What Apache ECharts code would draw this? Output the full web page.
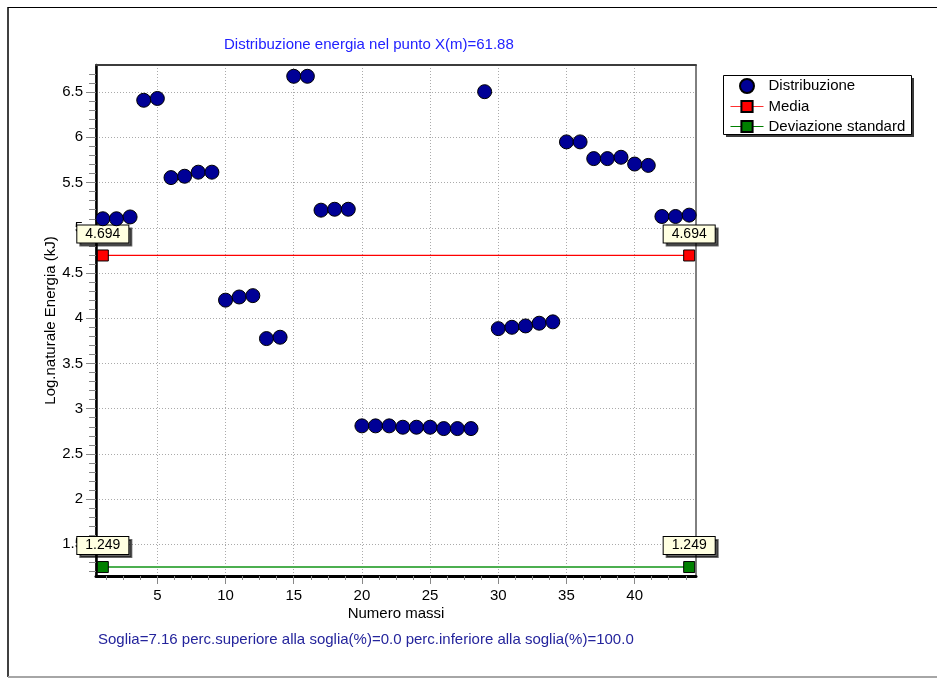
<!DOCTYPE html>
<html>
<head>
<meta charset="utf-8">
<script src="https://cdn.jsdelivr.net/npm/echarts@6/dist/echarts.min.js"></script>
<style>
html,body{margin:0;padding:0;background:#fff;}
#chart{width:937px;height:678px;}
</style>
</head>
<body>
<div id="chart"></div>
<script>
// ---- data ----
var masses = [1,2,3,4,5,6,7,8,9,10,11,12,13,14,15,16,17,18,19,20,21,22,23,24,25,26,27,28,29,30,31,32,33,34,35,36,37,38,39,40,41,42,43,44];
var logEnergy = [5.10,5.10,5.12,6.41,6.43,5.555,5.57,5.615,5.615,4.20,4.235,4.25,3.775,3.79,6.675,6.675,5.195,5.205,5.205,2.81,2.81,2.81,2.795,2.795,2.795,2.78,2.78,2.78,6.505,3.885,3.90,3.915,3.945,3.96,5.95,5.95,5.765,5.765,5.78,5.705,5.69,5.125,5.125,5.14];
var mediaValue = [4.694];
var devStdValue = [1.249];
var lineEnds = [1, 44];
var xTickLabels = [5,10,15,20,25,30,35,40];
var yTickLabels = [1.5,2,2.5,3,3.5,4,4.5,5,5.5,6,6.5];
var seriesNames = ['Distribuzione','Media','Deviazione standard'];
var titleText = 'Distribuzione energia nel punto X(m)=61.88';
var footText = 'Soglia=7.16 perc.superiore alla soglia(%)=0.0 perc.inferiore alla soglia(%)=100.0';
var xName = 'Numero massi';
var yName = 'Log.naturale Energia (kJ)';

// minor ticks (axis decoration)
var xMinor = [];
for (var i = 0; i < xTickLabels.length; i++) {
  var b = xTickLabels[i] - 5;
  for (var k = 1; k < 4; k++) xMinor.push(b + k * 1.25);
}
for (var k2 = 1; k2 < 4; k2++) xMinor.push(40 + k2 * 1.25);
var yMinor = [];
for (var j = 0; j < yTickLabels.length; j++) {
  var yb = yTickLabels[j] - 0.5;
  for (var m = 1; m < 5; m++) {
    var v = Math.round((yb + m * 0.1) * 10) / 10;
    if (v > 1.15) yMinor.push(v);
  }
}
yMinor.push(6.6, 6.7);

var scatterData = masses.map(function (x, i) { return [x, logEnergy[i]]; });
var mediaData = lineEnds.map(function (x) { return [x, mediaValue[0]]; });
var devData = lineEnds.map(function (x) { return [x, devStdValue[0]]; });

var FONT = 'Liberation Sans, Arial, sans-serif';
var XMIN = 0.5, XMAX = 44.5, YMIN = 1.15, YMAX = 6.8;

function boxLabel() {
  return {
    show: true, position: 'top', distance: 7,
    formatter: function (p) { return p.value[1].toFixed(3); },
    fontFamily: FONT, fontSize: 14, color: '#000', lineHeight: 15,
    backgroundColor: '#ffffe1', borderColor: '#000', borderWidth: 1,
    padding: [1, 8, 1, 8],
    shadowColor: 'rgba(0,0,0,0.6)', shadowOffsetX: 3, shadowOffsetY: 3, shadowBlur: 0
  };
}

var chart = echarts.init(document.getElementById('chart'), null, {renderer: 'canvas'});
chart.setOption({
  animation: false,
  backgroundColor: '#fff',
  textStyle: {fontFamily: FONT},
  title: [
    {text: titleText, left: 224, top: 37, padding: 0,
     textStyle: {fontFamily: FONT, fontSize: 15, fontWeight: 'normal', color: '#2121ff'}},
    {text: footText, left: 98, top: 632, padding: 0,
     textStyle: {fontFamily: FONT, fontSize: 15, fontWeight: 'normal', color: '#24249c'}}
  ],
  graphic: [
    {type: 'line', shape: {x1: 8, y1: 7, x2: 8, y2: 677}, style: {stroke: '#000', lineWidth: 1.5}},
    {type: 'line', shape: {x1: 8, y1: 7.5, x2: 937, y2: 7.5}, style: {stroke: '#000', lineWidth: 1.2}},
    {type: 'rect', shape: {x: 8, y: 676, width: 929, height: 2}, style: {fill: '#a6a6a6'}},
    {type: 'rect', z: -1, shape: {x: 726, y: 78, width: 188, height: 59}, style: {fill: '#3a3a3a'}},
    {type: 'rect', z: -1, shape: {x: 723.5, y: 75.5, width: 188, height: 59}, style: {fill: '#fff', stroke: '#000', lineWidth: 1}}
  ],
  legend: {
    orient: 'vertical', left: 723, top: 75,
    padding: [3, 6, 4, 7], itemGap: 5, itemWidth: 33, itemHeight: 14,
    selectedMode: false,
    textStyle: {fontFamily: FONT, fontSize: 15, color: '#000', lineHeight: 14},
    data: [
      {name: seriesNames[0]},
      {name: seriesNames[1], lineStyle: {color: '#ff3030', width: 1}},
      {name: seriesNames[2], lineStyle: {color: '#008000', width: 1}}
    ]
  },
  grid: {left: 96, right: 241, top: 65, bottom: 102, show: true,
         borderColor: '#000', borderWidth: 1, backgroundColor: 'transparent'},
  xAxis: [
    {type: 'value', min: XMIN, max: XMAX, position: 'bottom', minInterval: 5, maxInterval: 5,
     name: xName, nameLocation: 'middle', nameGap: 30, nameMoveOverlap: false,
     nameTextStyle: {fontFamily: FONT, fontSize: 15, color: '#000'},
     axisLine: {show: true, onZero: false, lineStyle: {color: '#000', width: 3}},
     axisTick: {show: true, customValues: xTickLabels, length: 8, lineStyle: {color: '#888'}},
     axisLabel: {customValues: xTickLabels, margin: 12, fontFamily: FONT, fontSize: 15, color: '#000'},
     splitLine: {show: true, lineStyle: {color: '#aaa', type: [1, 2], width: 1}}},
    {type: 'value', min: XMIN, max: XMAX, position: 'bottom',
     axisLine: {show: false, onZero: false},
     axisTick: {show: true, customValues: xMinor, length: 4, lineStyle: {color: '#888'}},
     axisLabel: {show: false}, splitLine: {show: false}},
    {type: 'value', min: XMIN, max: XMAX, position: 'top',
     axisLine: {show: true, onZero: false, lineStyle: {color: '#3c3c3c', width: 2}},
     axisTick: {show: false}, axisLabel: {show: false}, splitLine: {show: false}}
  ],
  yAxis: [
    {type: 'value', min: YMIN, max: YMAX, position: 'left', minInterval: 0.5, maxInterval: 0.5,
     name: yName, nameLocation: 'middle', nameGap: 38, nameMoveOverlap: false,
     nameTextStyle: {fontFamily: FONT, fontSize: 15, color: '#000'},
     axisLine: {show: true, onZero: false, lineStyle: {color: '#000', width: 2.5}},
     axisTick: {show: true, customValues: yTickLabels, length: 10, lineStyle: {color: '#888'}},
     axisLabel: {customValues: yTickLabels, margin: 13, fontFamily: FONT, fontSize: 15, color: '#000'},
     splitLine: {show: true, lineStyle: {color: '#aaa', type: [1, 2], width: 1}}},
    {type: 'value', min: YMIN, max: YMAX, position: 'left',
     axisLine: {show: false, onZero: false},
     axisTick: {show: true, customValues: yMinor, length: 7, lineStyle: {color: '#888'}},
     axisLabel: {show: false}, splitLine: {show: false}}
  ],
  series: [
    {name: seriesNames[1], type: 'line', data: mediaData, symbol: 'rect', symbolSize: 11,
     color: '#ff0000',
     lineStyle: {color: '#ff0000', width: 1.3, opacity: 1},
     itemStyle: {color: '#ff0000', borderColor: '#000', borderWidth: 1},
     label: boxLabel(), emphasis: {disabled: true}, z: 3},
    {name: seriesNames[2], type: 'line', data: devData, symbol: 'rect', symbolSize: 11,
     color: '#008000',
     lineStyle: {color: '#4caf50', width: 2, opacity: 1},
     itemStyle: {color: '#008000', borderColor: '#000', borderWidth: 1},
     label: boxLabel(), emphasis: {disabled: true}, z: 3},
    {name: seriesNames[0], type: 'scatter', data: scatterData, symbol: 'circle', symbolSize: 14,
     itemStyle: {color: '#000096', borderColor: '#000', borderWidth: 1, opacity: 1},
     emphasis: {disabled: true}, z: 4}
  ]
});
</script>
</body>
</html>
